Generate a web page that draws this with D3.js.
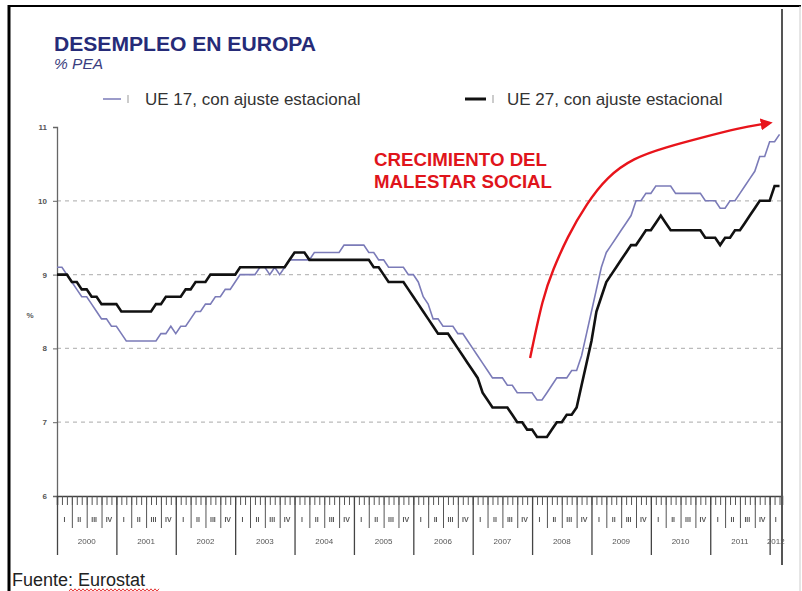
<!DOCTYPE html>
<html>
<head>
<meta charset="utf-8">
<script src="https://cdn.jsdelivr.net/npm/d3@7"></script>
<style>
  html, body { margin: 0; padding: 0; background: #fff; }
  svg text { font-family: Arial, "Liberation Sans", sans-serif; }
</style>
</head>
<body>
<div id="chart"></div>
<script>
// monthly unemployment rate, Jan 2000 .. Mar 2012
const years = ["2000", "2001", "2002", "2003", "2004", "2005", "2006", "2007", "2008", "2009", "2010", "2011", "2012"];
const quarters = ["I", "II", "III", "IV"];
const yTicks = [6, 7, 8, 9, 10, 11];
const gridTicks = [7, 8, 9, 10];

const ue17 = [
  9.1, 9.1, 9.0, 8.9, 8.8, 8.7, 8.7, 8.6, 8.5, 8.4, 8.4, 8.3,
  8.3, 8.2, 8.1, 8.1, 8.1, 8.1, 8.1, 8.1, 8.1, 8.2, 8.2, 8.3,
  8.2, 8.3, 8.3, 8.4, 8.5, 8.5, 8.6, 8.6, 8.7, 8.7, 8.8, 8.8,
  8.9, 9.0, 9.0, 9.0, 9.0, 9.1, 9.1, 9.0, 9.1, 9.0, 9.1, 9.2,
  9.2, 9.2, 9.2, 9.2, 9.3, 9.3, 9.3, 9.3, 9.3, 9.3, 9.4, 9.4,
  9.4, 9.4, 9.4, 9.3, 9.3, 9.2, 9.2, 9.1, 9.1, 9.1, 9.1, 9.0,
  9.0, 8.9, 8.7, 8.6, 8.4, 8.4, 8.3, 8.3, 8.3, 8.2, 8.2, 8.1,
  8.0, 7.9, 7.8, 7.7, 7.6, 7.6, 7.6, 7.5, 7.5, 7.4, 7.4, 7.4,
  7.4, 7.3, 7.3, 7.4, 7.5, 7.6, 7.6, 7.6, 7.7, 7.7, 7.9, 8.2,
  8.5, 8.8, 9.1, 9.3, 9.4, 9.5, 9.6, 9.7, 9.8, 10.0, 10.0, 10.1,
  10.1, 10.2, 10.2, 10.2, 10.2, 10.1, 10.1, 10.1, 10.1, 10.1, 10.1, 10.0,
  10.0, 10.0, 9.9, 9.9, 10.0, 10.0, 10.1, 10.2, 10.3, 10.4, 10.6, 10.6,
  10.8, 10.8, 10.9
];

const ue27 = [
  9.0, 9.0, 9.0, 8.9, 8.9, 8.8, 8.8, 8.7, 8.7, 8.6, 8.6, 8.6,
  8.6, 8.5, 8.5, 8.5, 8.5, 8.5, 8.5, 8.5, 8.6, 8.6, 8.7, 8.7,
  8.7, 8.7, 8.8, 8.8, 8.9, 8.9, 8.9, 9.0, 9.0, 9.0, 9.0, 9.0,
  9.0, 9.1, 9.1, 9.1, 9.1, 9.1, 9.1, 9.1, 9.1, 9.1, 9.1, 9.2,
  9.3, 9.3, 9.3, 9.2, 9.2, 9.2, 9.2, 9.2, 9.2, 9.2, 9.2, 9.2,
  9.2, 9.2, 9.2, 9.2, 9.1, 9.1, 9.0, 8.9, 8.9, 8.9, 8.9, 8.8,
  8.7, 8.6, 8.5, 8.4, 8.3, 8.2, 8.2, 8.2, 8.1, 8.0, 7.9, 7.8,
  7.7, 7.6, 7.4, 7.3, 7.2, 7.2, 7.2, 7.2, 7.1, 7.0, 7.0, 6.9,
  6.9, 6.8, 6.8, 6.8, 6.9, 7.0, 7.0, 7.1, 7.1, 7.2, 7.5, 7.8,
  8.1, 8.5, 8.7, 8.9, 9.0, 9.1, 9.2, 9.3, 9.4, 9.4, 9.5, 9.6,
  9.6, 9.7, 9.8, 9.7, 9.6, 9.6, 9.6, 9.6, 9.6, 9.6, 9.6, 9.5,
  9.5, 9.5, 9.4, 9.5, 9.5, 9.6, 9.6, 9.7, 9.8, 9.9, 10.0, 10.0,
  10.0, 10.2, 10.2
];

// annotation arrow, in (month, %) units
const arrowMonths = [95.6, 98.2, 100.2, 103.1, 107.1, 111.1, 116.4, 123.2, 129.9, 138.0, 142.7];
const arrowValues = [7.87, 8.70, 9.06, 9.51, 9.97, 10.32, 10.58, 10.73, 10.85, 10.99, 11.04];

const width = 802, height = 591;
const nMonths = ue17.length;

const svg = d3.select("#chart").append("svg")
  .attr("width", width)
  .attr("height", height);

const x = d3.scaleLinear().domain([0, nMonths - 0.5]).range([57, 782]);
const y = d3.scaleLinear().domain([6, 11]).range([496, 127]);

const defs = svg.append("defs");
// keep the tiny axis labels grey (no colour fringes)
defs.append("filter").attr("id", "grey")
  .append("feColorMatrix").attr("type", "saturate").attr("values", 0);

// frame
svg.append("line").attr("x1", 9).attr("x2", 9).attr("y1", 5).attr("y2", height)
  .attr("stroke", "#000").attr("stroke-width", 3);
svg.append("line").attr("x1", 8).attr("x2", 801).attr("y1", 6).attr("y2", 6)
  .attr("stroke", "#000").attr("stroke-width", 2);
svg.append("line").attr("x1", 800).attr("x2", 800).attr("y1", 6).attr("y2", height)
  .attr("stroke", "#ccc").attr("stroke-width", 1);

// titles
svg.append("text").attr("x", 54).attr("y", 51)
  .attr("font-size", 21).attr("font-weight", "bold").attr("fill", "#262b78")
  .attr("textLength", 262).attr("lengthAdjust", "spacingAndGlyphs")
  .text("DESEMPLEO EN EUROPA");
svg.append("text").attr("x", 54).attr("y", 69)
  .attr("font-size", 15.5).attr("font-style", "italic").attr("fill", "#3a3d80")
  .text("% PEA");

// legend
const legend = [
  { label: "UE 17, con ajuste estacional", color: "#7b7bb8", w: 1.5, x0: 103, x1: 121, tx: 145 },
  { label: "UE 27, con ajuste estacional", color: "#111", w: 3, x0: 465, x1: 486, tx: 507 }
];
legend.forEach(l => {
  svg.append("line").attr("x1", l.x0).attr("x2", l.x1).attr("y1", 99).attr("y2", 99)
    .attr("stroke", l.color).attr("stroke-width", l.w);
  svg.append("line").attr("x1", l.x1 + 7).attr("x2", l.x1 + 7).attr("y1", 95).attr("y2", 103)
    .attr("stroke", "#999").attr("stroke-width", 1);
  svg.append("text").attr("x", l.tx).attr("y", 105)
    .attr("font-size", 17).attr("fill", "#333").text(l.label);
});

// grid
svg.append("g").selectAll("line").data(gridTicks).join("line")
  .attr("x1", x(0)).attr("x2", x.range()[1])
  .attr("y1", d => y(d)).attr("y2", d => y(d))
  .attr("stroke", "#bbb").attr("stroke-width", 1.3).attr("stroke-dasharray", "4,4");

// y axis
const yAxis = svg.append("g").attr("transform", `translate(${x(0)},0)`)
  .call(d3.axisLeft(y).tickValues(yTicks).tickSize(4).tickFormat(d3.format("d")));
yAxis.select(".domain").attr("stroke", "#666").attr("stroke-width", 1.3);
yAxis.selectAll(".tick line").attr("stroke", "#666");
yAxis.selectAll(".tick text").attr("font-size", 8).attr("font-weight", "bold")
  .attr("fill", "#555").attr("x", -10);

svg.append("text").attr("x", 30).attr("y", 318).attr("text-anchor", "middle")
  .attr("font-size", 8).attr("font-weight", "bold").attr("fill", "#555").text("%");

// x axis: months, quarters, years
const axisY = y(6);
const monthAxis = svg.append("g").attr("transform", `translate(0,${axisY})`)
  .call(d3.axisBottom(x).tickValues(d3.range(0, nMonths)).tickSize(9).tickFormat(""));
monthAxis.select(".domain").attr("stroke", "#444").attr("stroke-width", 1.5);
monthAxis.selectAll(".tick line").attr("stroke", "#555");

const quarterStarts = d3.range(0, nMonths, 3);
const quarterAxis = svg.append("g").attr("transform", `translate(0,${axisY})`)
  .call(d3.axisBottom(x).tickValues(quarterStarts.filter(m => m % 12 !== 0)).tickSize(32).tickFormat(""));
quarterAxis.select(".domain").remove();
quarterAxis.selectAll(".tick line").attr("stroke", "#555");

const yearAxis = svg.append("g").attr("transform", `translate(0,${axisY})`)
  .call(d3.axisBottom(x).tickValues(d3.range(0, nMonths, 12)).tickSize(59).tickFormat(""));
yearAxis.select(".domain").remove();
yearAxis.selectAll(".tick line").attr("stroke", "#444").attr("stroke-width", 1.3);

svg.append("g").attr("filter", "url(#grey)").selectAll("text").data(quarterStarts).join("text")
  .attr("x", m => x(Math.min(m + 1.5, (m + nMonths - 0.5) / 2)))
  .attr("y", 522).attr("text-anchor", "middle")
  .attr("font-size", 7).attr("font-weight", "bold").attr("fill", "#555")
  .text(m => quarters[(m / 3) % 4]);

svg.append("g").attr("filter", "url(#grey)").selectAll("text").data(years).join("text")
  .attr("x", (d, i) => {
    const s = i * 12, e = Math.min(s + 12, nMonths - 0.5);
    return (x(s) + x(e)) / 2;
  })
  .attr("y", 544).attr("text-anchor", "middle")
  .attr("font-size", 8).attr("fill", "#555").text(d => d);

// series
const line = d3.line().x((d, i) => x(i)).y(d => y(d));
svg.append("path").datum(ue17).attr("d", line)
  .attr("fill", "none").attr("stroke", "#7b7bb8").attr("stroke-width", 1.6);
svg.append("path").datum(ue27).attr("d", line)
  .attr("fill", "none").attr("stroke", "#111").attr("stroke-width", 2.6);

// right edge line
svg.append("line").attr("x1", x.range()[1]).attr("x2", x.range()[1])
  .attr("y1", 9).attr("y2", 565).attr("stroke", "#555").attr("stroke-width", 2);

// annotation
defs.append("marker").attr("id", "arrow").attr("viewBox", "0 0 10 10")
  .attr("refX", 2).attr("refY", 5).attr("markerWidth", 5).attr("markerHeight", 5)
  .attr("orient", "auto")
  .append("path").attr("d", "M0,0 L10,5 L0,10 z").attr("fill", "#e8141b");

const arrowPts = arrowMonths.map((m, i) => [x(m), y(arrowValues[i])]);
svg.append("path").attr("d", d3.line().curve(d3.curveBasis)(arrowPts))
  .attr("fill", "none").attr("stroke", "#e8141b").attr("stroke-width", 2.4)
  .attr("marker-end", "url(#arrow)");

const note = svg.append("g").attr("fill", "#e0141b").attr("font-weight", "bold").attr("font-size", 19);
note.append("text").attr("x", 374).attr("y", 166)
  .attr("textLength", 173).attr("lengthAdjust", "spacingAndGlyphs").text("CRECIMIENTO DEL");
note.append("text").attr("x", 374).attr("y", 188)
  .attr("textLength", 178).attr("lengthAdjust", "spacingAndGlyphs").text("MALESTAR SOCIAL");

// source
const src = svg.append("text").attr("x", 12).attr("y", 586)
  .attr("font-size", 18).attr("fill", "#222");
src.append("tspan").text("Fuente: ");
src.append("tspan").text("Eurostat");

const wave = d3.range(0, 46).map(i => [69 + i * 2, 590 + (i % 2 ? -1.2 : 1.2)]);
svg.append("path").attr("d", d3.line()(wave))
  .attr("fill", "none").attr("stroke", "#e02020").attr("stroke-width", 0.9);
</script>
</body>
</html>
